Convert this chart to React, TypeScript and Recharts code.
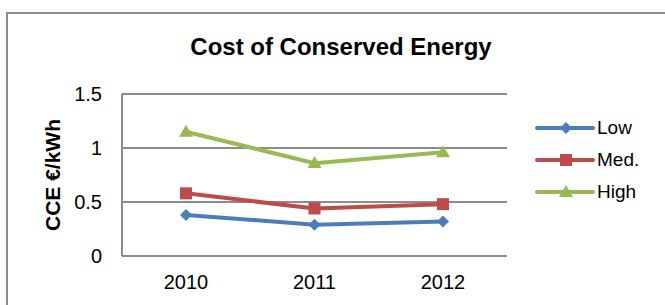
import { LineChart, Line, XAxis, YAxis, CartesianGrid } from 'recharts'

const years = ['2010', '2011', '2012']
const lowValues = [0.38, 0.29, 0.32]
const medValues = [0.58, 0.44, 0.48]
const highValues = [1.15, 0.86, 0.96]
const yTicks = [0, 0.5, 1, 1.5]

const FONT = '"Liberation Sans", Arial, sans-serif'
const GRID = '#8c8c8c'

const series = [
  { key: 'low', name: 'Low', color: '#4a7ebb', shape: 'diamond' },
  { key: 'med', name: 'Med.', color: '#be4b48', shape: 'square' },
  { key: 'high', name: 'High', color: '#98b954', shape: 'triangle' },
]

const data = years.map((year, i) => ({
  year,
  low: lowValues[i],
  med: medValues[i],
  high: highValues[i],
}))

function Marker({ cx, cy, shape, color }: { cx: number; cy: number; shape: string; color: string }) {
  if (cx == null || cy == null) return null
  if (shape === 'diamond') {
    const r = 6
    return <path d={`M${cx},${cy - r}L${cx + r},${cy}L${cx},${cy + r}L${cx - r},${cy}Z`} fill={color} />
  }
  if (shape === 'square') {
    const r = 6
    return <rect x={cx - r} y={cy - r} width={r * 2} height={r * 2} fill={color} />
  }
  return <path d={`M${cx},${cy - 7}L${cx + 7},${cy + 5}L${cx - 7},${cy + 5}Z`} fill={color} />
}

// legend drawn by hand, a Recharts <Legend> would eat into the plot height
function LegendBox() {
  return (
    <div style={{ position: 'absolute', left: 535, top: 112, fontFamily: FONT, fontSize: 19, color: '#000' }}>
      {series.map((s) => (
        <div key={s.key} style={{ display: 'flex', alignItems: 'center', height: 32 }}>
          <svg width={60} height={16}>
            <line x1={2} y1={8} x2={58} y2={8} stroke={s.color} strokeWidth={4} strokeLinecap="round" />
            <Marker cx={31} cy={8} shape={s.shape} color={s.color} />
          </svg>
          <span style={{ marginLeft: 2 }}>{s.name}</span>
        </div>
      ))}
    </div>
  )
}

export default function App() {
  return (
    <div
      style={{
        position: 'absolute',
        left: 0,
        top: 0,
        width: 665,
        height: 305,
        overflow: 'hidden',
        background: '#fff',
        fontFamily: FONT,
      }}
    >
      <div
        style={{
          position: 'absolute',
          left: 6,
          top: 12,
          width: 700,
          height: 340,
          border: `2px solid ${GRID}`,
        }}
      />
      <div
        style={{
          position: 'absolute',
          left: 0,
          width: 682,
          top: 32,
          textAlign: 'center',
          fontSize: 24,
          fontWeight: 'bold',
          lineHeight: '30px',
        }}
      >
        Cost of Conserved Energy
      </div>
      <div
        style={{
          position: 'absolute',
          left: 53,
          top: 175,
          transform: 'translate(-50%, -50%) rotate(-90deg)',
          fontSize: 21,
          fontWeight: 'bold',
          whiteSpace: 'nowrap',
          lineHeight: '24px',
        }}
      >
        CCE €/kWh
      </div>
      <div style={{ position: 'absolute', left: 0, top: 0 }}>
        <LineChart width={665} height={305} data={data} margin={{ top: 94, right: 158, bottom: 19, left: 62 }}>
          <CartesianGrid horizontal vertical={false} stroke={GRID} strokeWidth={2} />
          <XAxis
            dataKey="year"
            padding={{ left: 64, right: 64 }}
            axisLine={{ stroke: GRID, strokeWidth: 2 }}
            tickLine={false}
            tickMargin={13}
            height={30}
            tick={{ fill: '#000', fontSize: 20, fontFamily: FONT }}
          />
          <YAxis
            domain={[0, 1.5]}
            ticks={yTicks}
            width={60}
            axisLine={{ stroke: GRID, strokeWidth: 2 }}
            tickLine={false}
            tickMargin={14}
            tick={{ fill: '#000', fontSize: 20, fontFamily: FONT }}
          />
          {series.map((s) => (
            <Line
              key={s.key}
              dataKey={s.key}
              name={s.name}
              stroke={s.color}
              strokeWidth={4}
              dot={(p: any) => <Marker key={`${s.key}-${p.index}`} cx={p.cx} cy={p.cy} shape={s.shape} color={s.color} />}
              activeDot={false}
              isAnimationActive={false}
            />
          ))}
        </LineChart>
      </div>
      <LegendBox />
    </div>
  )
}
